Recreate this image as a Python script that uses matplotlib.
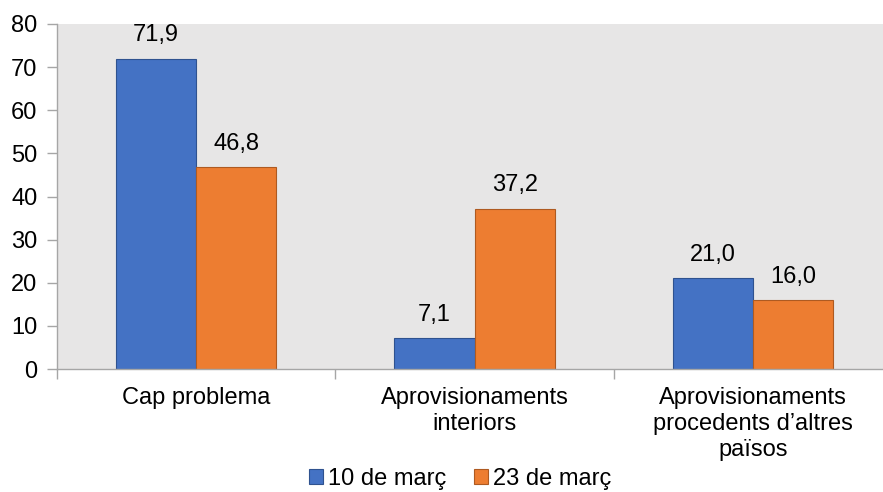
import matplotlib.pyplot as plt
import numpy as np

plt.rcParams['font.family'] = ['Liberation Sans', 'DejaVu Sans']

categories = ['Cap problema', 'Aprovisionaments\ninteriors',
              'Aprovisionaments\nprocedents d\u2019altres\npaïsos']
series_names = ['10 de març', '23 de març']
vals_10 = [71.9, 7.1, 21.0]
vals_23 = [46.8, 37.2, 16.0]

blue = '#4472C4'
orange = '#ED7D31'
axis_grey = '#A6A6A6'
fs = 17

fig = plt.figure(figsize=(8.83, 4.92), dpi=100)
ax = fig.add_axes([57 / 883, 1 - 369 / 492, 835 / 883, 345 / 492])
ax.set_facecolor('#E7E6E6')

x = np.arange(len(categories))
w = 0.288
b1 = ax.bar(x - w / 2, vals_10, w, color=blue, edgecolor='#2F528F', linewidth=0.8, label=series_names[0])
b2 = ax.bar(x + w / 2, vals_23, w, color=orange, edgecolor='#AE5A21', linewidth=0.8, label=series_names[1])

for bars in (b1, b2):
    for r in bars:
        h = r.get_height()
        ax.annotate('{:.1f}'.format(h).replace('.', ','),
                    (r.get_x() + r.get_width() / 2, h),
                    xytext=(0, 9), textcoords='offset points',
                    ha='center', va='bottom', fontsize=fs)

ax.set_xlim(-0.5, 2.5)
ax.set_ylim(0, 80)
ax.set_yticks(range(0, 81, 10))
ax.set_xticks(x)
ax.set_xticklabels(categories, fontsize=fs, linespacing=1.24)
ax.set_xticks([-0.5, 0.5, 1.5, 2.5], minor=True)
ax.tick_params(axis='x', which='major', length=0, pad=13)
ax.tick_params(axis='x', which='minor', length=7, color=axis_grey, width=1)
ax.tick_params(axis='y', length=7, color=axis_grey, width=1, labelsize=fs, pad=7)
for s in ('top', 'right'):
    ax.spines[s].set_visible(False)
for s in ('left', 'bottom'):
    ax.spines[s].set_color(axis_grey)
    ax.spines[s].set_linewidth(1)

fig.legend(handles=[b1, b2], labels=series_names, loc='center',
           bbox_to_anchor=(460 / 883, 1 - 479 / 492), ncol=2, frameon=False,
           fontsize=fs, handlelength=0.6, handleheight=0.6, handletextpad=0.2,
           columnspacing=1.2)

fig.savefig('out.png', dpi=100)
